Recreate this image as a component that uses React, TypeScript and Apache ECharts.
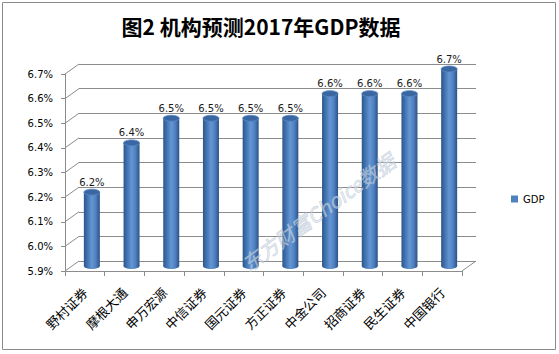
import React, { useEffect, useRef } from "react";
import * as echarts from "echarts";

const categories = ["野村证券", "摩根大通", "申万宏源", "中信证券", "国元证券", "方正证券", "中金公司", "招商证券", "民生证券", "中国银行"];
const gdpValues = [6.2, 6.4, 6.5, 6.5, 6.5, 6.5, 6.6, 6.6, 6.6, 6.7];
const yTicks = [5.9, 6.0, 6.1, 6.2, 6.3, 6.4, 6.5, 6.6, 6.7];
const titleText = "图2 机构预测2017年GDP数据";
const seriesName = "GDP";
const watermark = "东方财富Choice数据";

const Y_MIN = 5.9;
const Y_MAX = 6.7;
const Y_STEP = 0.1;
const DX = 14;
const DY = 10;
const GRID_COLOR = "#8c8c8c";

export default function App() {
  const ref = useRef<HTMLDivElement>(null);
  useEffect(() => {
    document.body.style.margin = "0";
    const chart = echarts.init(ref.current!, null, { renderer: "svg" });
    const barGrad = new echarts.graphic.LinearGradient(0, 0, 1, 0, [
      { offset: 0, color: "#2d568a" },
      { offset: 0.2, color: "#3f70ae" },
      { offset: 0.5, color: "#6596d4" },
      { offset: 0.75, color: "#4f80c0" },
      { offset: 1, color: "#2b5286" },
    ]);
    const option: any = {
      animation: false,
      backgroundColor: "#ffffff",
      grid: [
        { left: 65, right: 97, top: 74, bottom: 83 },
        { left: 65 + DX, right: 97 - DX, top: 74 - DY, bottom: 83 + DY },
      ],
      xAxis: [
        {
          type: "category",
          gridIndex: 0,
          data: categories,
          boundaryGap: true,
          axisLine: { show: true, lineStyle: { color: GRID_COLOR } },
          axisTick: { show: true, length: 5, alignWithLabel: false, lineStyle: { color: GRID_COLOR } },
          axisLabel: {
            interval: 0,
            rotate: 45,
            margin: 19,
            fontSize: 13,
            color: "#000",
            fontFamily: "Noto Sans CJK SC",
          },
        },
        { type: "category", gridIndex: 1, data: categories, show: false },
      ],
      yAxis: [
        {
          type: "value",
          gridIndex: 0,
          min: Y_MIN,
          max: Y_MAX,
          interval: Y_STEP,
          axisLine: { show: true, lineStyle: { color: GRID_COLOR } },
          axisTick: { show: true, length: 4, lineStyle: { color: GRID_COLOR } },
          splitLine: { show: false },
          axisLabel: {
            formatter: (v: number) => v.toFixed(1) + "%",
            fontSize: 10,
            color: "#000",
            fontFamily: "DejaVu Sans",
            margin: 12,
          },
        },
        {
          type: "value",
          gridIndex: 1,
          min: Y_MIN,
          max: Y_MAX,
          interval: Y_STEP,
          axisLine: { show: false },
          axisTick: { show: false },
          axisLabel: { show: false },
          splitLine: { show: true, lineStyle: { color: GRID_COLOR, width: 1 } },
        },
      ],
      legend: {
        data: [seriesName],
        left: 506,
        top: 189,
        icon: "rect",
        itemWidth: 7,
        itemHeight: 7,
        itemGap: 5,
        textStyle: { fontSize: 10, fontFamily: "DejaVu Sans", color: "#000" },
      },
      graphic: [
        {
          type: "rect",
          shape: { x: 2.5, y: 2.5, width: 553, height: 347 },
          style: { fill: "none", stroke: "#8a8a8a", lineWidth: 1 },
        },
        {
          type: "text",
          x: 261,
          y: 26,
          style: {
            text: titleText,
            align: "center",
            verticalAlign: "middle",
            font: "bold 21px 'Noto Sans CJK SC'",
            fill: "#000",
          },
        },
        {
          type: "text",
          x: 318,
          y: 212,
          rotation: (36 * Math.PI) / 180,
          z: 100,
          style: {
            text: watermark,
            align: "center",
            verticalAlign: "middle",
            font: "italic 20px 'Noto Sans CJK SC'",
            fill: "rgba(215,225,235,0.55)",
            stroke: "rgba(150,165,185,0.6)",
            lineWidth: 0.6,
          },
        },
      ],
      series: [
        {
          type: "custom",
          name: "wall",
          xAxisIndex: 0,
          yAxisIndex: 0,
          silent: true,
          legendHoverLink: false,
          data: yTicks.map((t) => [0, t]),
          renderItem: (params: any, api: any) => {
            const cs = params.coordSys;
            const y = api.coord([0, api.value(1)])[1];
            const children: any[] = [
              {
                type: "line",
                shape: { x1: cs.x, y1: y, x2: cs.x + DX, y2: y - DY },
                style: { stroke: GRID_COLOR, lineWidth: 1 },
              },
            ];
            if (params.dataIndex === 0) {
              children.push({
                type: "line",
                shape: { x1: cs.x + cs.width, y1: y, x2: cs.x + cs.width + DX, y2: y - DY },
                style: { stroke: GRID_COLOR, lineWidth: 1 },
              });
            }
            return { type: "group", children };
          },
        },
        {
          type: "custom",
          name: seriesName,
          xAxisIndex: 0,
          yAxisIndex: 0,
          itemStyle: { color: "#4f81bd" },
          data: gdpValues.map((v, i) => [i, v]),
          renderItem: (params: any, api: any) => {
            const i = api.value(0);
            const v = api.value(1);
            const top = api.coord([i, v]);
            const base = api.coord([i, Y_MIN]);
            const cx = top[0] + DX / 2;
            const ty = top[1] - DY / 2;
            const by = base[1] - DY / 2;
            const w = 16;
            const r = w / 2;
            const ry = 3;
            return {
              type: "group",
              children: [
                { type: "ellipse", shape: { cx, cy: by, rx: r, ry }, style: { fill: barGrad } },
                { type: "rect", shape: { x: cx - r, y: ty, width: w, height: by - ty }, style: { fill: barGrad } },
                {
                  type: "ellipse",
                  shape: { cx, cy: ty, rx: r, ry },
                  style: { fill: "#3a67a2", stroke: "#5b8ac6", lineWidth: 0.8 },
                },
                {
                  type: "text",
                  style: {
                    text: v.toFixed(1) + "%",
                    x: cx,
                    y: ty - 5,
                    align: "center",
                    verticalAlign: "bottom",
                    font: "10px 'DejaVu Sans'",
                    fill: "#1a1a1a",
                  },
                },
              ],
            };
          },
        },
      ],
    };
    chart.setOption(option);
    return () => chart.dispose();
  }, []);
  return <div ref={ref} style={{ width: 559, height: 354 }} />;
}
